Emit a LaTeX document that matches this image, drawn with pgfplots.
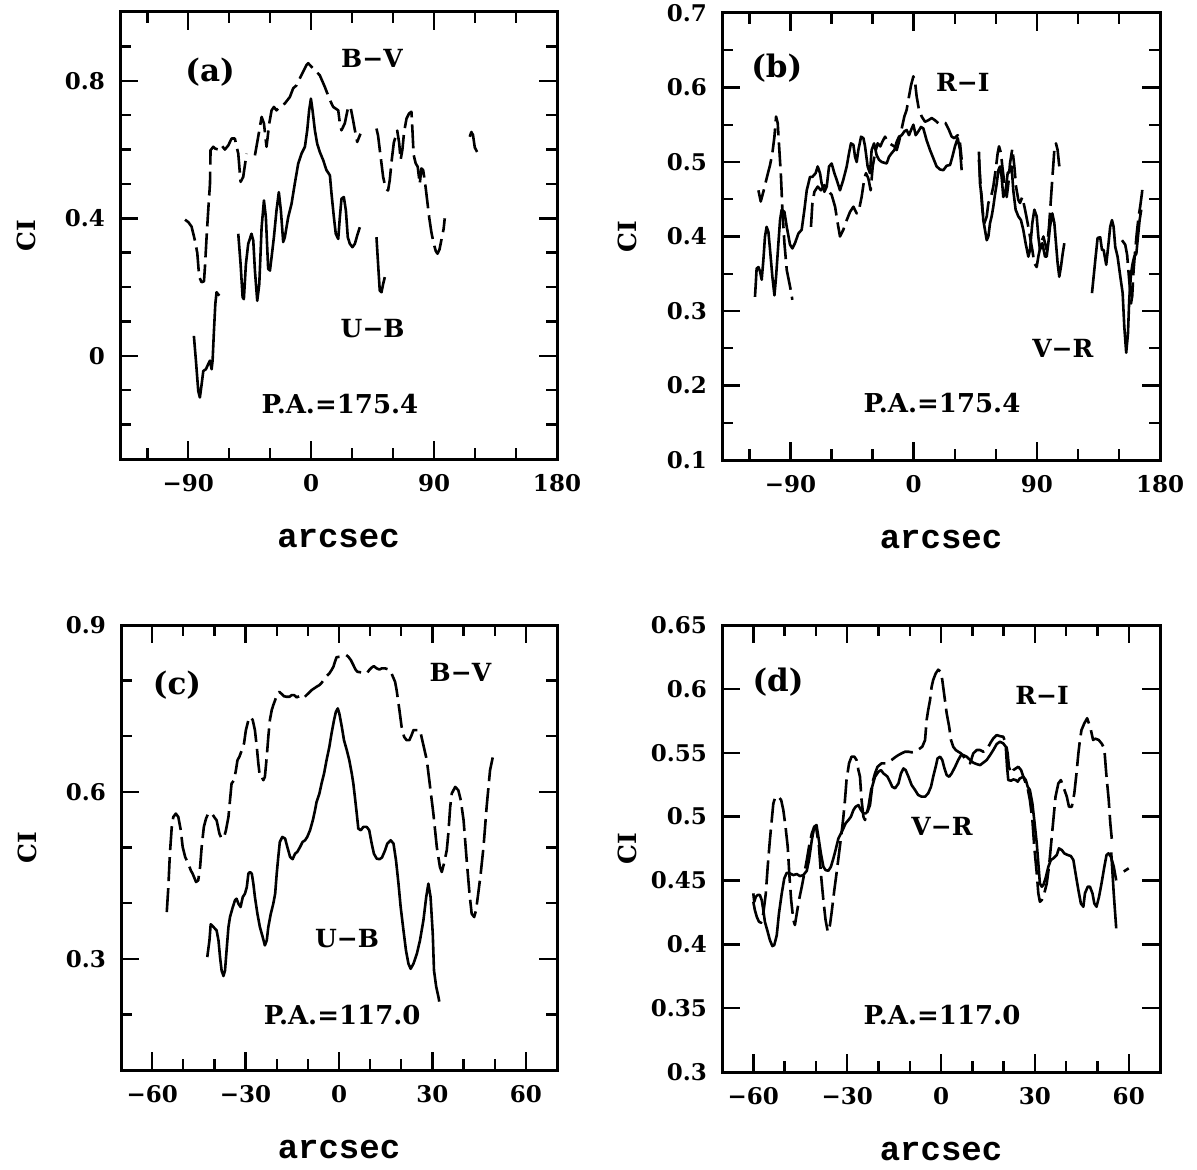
\documentclass[border=0pt]{standalone}
\usepackage{pgfplots}
\pgfplotsset{compat=1.18}
\usepackage{fontspec}
\setmainfont{DejaVu Serif}
\setmonofont{Liberation Mono}

\tikzset{
  lab/.style={font=\fontsize{12.5}{15}\selectfont\bfseries},
  pan/.style={font=\fontsize{15.5}{18}\selectfont\bfseries},
  pa/.style={font=\fontsize{13}{16}\selectfont\bfseries},
}
\pgfplotsset{
  panel/.style={
    scale only axis, clip=true,
    axis line style={line width=1.5pt},
    every tick/.style={black, line width=1.2pt},
    major tick length=9pt, minor tick length=5.5pt,
    tick align=inside,
    tick label style={font=\fontsize{11.5}{14}\selectfont\bfseries},
    xticklabel style={yshift=-4pt},
    yticklabel style={xshift=-4pt},
    xlabel={\fontsize{17}{19}\selectfont\ttfamily\bfseries arcsec},
    ylabel={\fontsize{12.5}{15}\selectfont\bfseries CI},
    xlabel style={at={(axis description cs:0.5,-0.178)}, anchor=center},
    ylabel style={at={(axis description cs:-0.215,0.5)}, anchor=center},
  },
  ci/.style={black, line width=1.3pt, line join=round, no marks},
  cid/.style={ci, dash pattern=on 12pt off 3.5pt},
  wide/.style={xmin=-140, xmax=180,
    xtick={-90,0,90,180}, xticklabels={−90,0,90,180},
    minor xtick={-120,-60,-30,30,60,120,150}},
  narrow/.style={xmin=-70, xmax=70,
    xtick={-60,-30,0,30,60}, xticklabels={−60,−30,0,30,60},
    minor xtick={-50,-40,-20,-10,10,20,40,50}},
}

\begin{document}
\begin{tikzpicture}
\useasboundingbox (0,0) rectangle (598.5pt,584.5pt);

% (a) P.A. = 175.4, B-V and U-B
\begin{axis}[panel, wide, at={(60pt,355pt)}, anchor=south west,
  width=218.5pt, height=223.5pt,
  ymin=-0.3, ymax=1.0,
  ytick={0,0.4,0.8}, yticklabels={0,0.4,0.8},
  minor ytick={-0.2,-0.1,0.1,0.2,0.3,0.5,0.6,0.7,0.9}]
\addplot[cid] coordinates {(-92.4,0.396) (-90,0.389) (-87.6,0.376) (-85.1,0.335) (-83.4,0.299) (-82,0.229) (-80.2,0.214) (-78.5,0.217) (-77.8,0.258) (-76.6,0.345) (-75.4,0.423) (-74.1,0.501) (-73.7,0.598) (-71.7,0.608) (-70.5,0.603) (-68,0.6) (-65.6,0.612) (-63.2,0.6) (-60.7,0.612) (-58.3,0.632) (-55.9,0.632) (-53.4,0.588) (-51.7,0.506) (-49.8,0.52) (-47.3,0.588)};
\addplot[cid] coordinates {(-41.2,0.583) (-38.8,0.637) (-36.3,0.695) (-34.6,0.676) (-32.7,0.608) (-30.7,0.676) (-29,0.714) (-27.3,0.724) (-25.4,0.714) (-22.9,0.724) (-19.3,0.734) (-15.6,0.753) (-13.2,0.778) (-10.7,0.787) (-8.3,0.807) (-5.9,0.826) (-3.4,0.846) (-2.2,0.851) (0.2,0.841) (1.5,0.836) (6.3,0.816) (10,0.782) (13.7,0.744) (16.1,0.724) (19.8,0.714) (21,0.676) (22.2,0.656) (24.6,0.676) (27.1,0.724) (28.8,0.724) (30.7,0.685) (32,0.656) (33.7,0.622) (35.1,0.636) (36.1,0.646)};
\addplot[cid] coordinates {(47.8,0.661) (49,0.64) (50.2,0.60) (52.7,0.52) (54.6,0.486) (56.3,0.481) (57.5,0.51) (59,0.57) (60.5,0.62) (62,0.64) (63,0.655) (64.4,0.62) (65.5,0.57) (66.8,0.60) (68,0.65) (69.8,0.69) (71.7,0.705) (73.4,0.71) (74.1,0.66) (75,0.585) (76.5,0.56) (78,0.55) (79.5,0.50) (80.7,0.545) (82,0.54) (83.5,0.50) (85,0.45) (86.5,0.40) (88,0.36) (89.5,0.33) (91.2,0.305) (92.5,0.297) (94,0.31) (95.5,0.34) (97,0.37) (97.8,0.40)};
\addplot[ci] coordinates {(116.1,0.637) (117.3,0.651) (118.5,0.642) (119.8,0.606) (121.5,0.593)};
\addplot[ci] coordinates {(-85.9,0.058) (-84.4,-0.014) (-82.7,-0.102) (-81.5,-0.121) (-80.2,-0.082) (-79,-0.044) (-77.1,-0.039) (-75.4,-0.024) (-74.1,-0.014) (-72.9,-0.039) (-72.2,-0.014) (-71.2,0.073) (-70.2,0.151) (-69.3,0.185) (-67.3,0.175)};
\addplot[ci] coordinates {(-53.4,0.355) (-51.7,0.267) (-50.2,0.17) (-49.3,0.165) (-47.8,0.267) (-46.1,0.326) (-43.7,0.355) (-42.4,0.335) (-41.2,0.248) (-39.5,0.16) (-38,0.209) (-36.3,0.374) (-34.6,0.452) (-33.2,0.404) (-31.5,0.253) (-30.2,0.248) (-29,0.287) (-27.3,0.345) (-25.4,0.423) (-23.7,0.476) (-22.2,0.423) (-20.5,0.331) (-19.3,0.345) (-16.8,0.404) (-14.4,0.442) (-12,0.501) (-9.5,0.559) (-7.1,0.588) (-4.6,0.608) (-2.9,0.656) (-1.5,0.714) (-0.2,0.748) (1,0.714) (2.7,0.656) (4.4,0.617) (6.3,0.593) (8.8,0.569) (11.2,0.54) (13.7,0.525) (14.9,0.471) (16.6,0.404) (18,0.355) (19.8,0.34) (21,0.404) (22.2,0.457) (23.9,0.462) (25.4,0.423) (26.8,0.345) (28.3,0.326) (30.2,0.316) (32,0.326) (33.7,0.35) (35.6,0.374)};
\addplot[ci] coordinates {(47.8,0.345) (49,0.267) (50.2,0.19) (51.5,0.185) (52.7,0.209) (53.9,0.229)};
\node[pan] at (axis cs:-74,0.825) {(a)};
\node[lab] at (axis cs:44.5,0.866) {B−V};
\node[lab] at (axis cs:45,0.08) {U−B};
\node[pa] at (axis cs:21,-0.14) {P.A.=175.4};
\end{axis}

% (b) P.A. = 175.4, R-I and V-R
\begin{axis}[panel, wide, at={(361pt,354.5pt)}, anchor=south west,
  width=219pt, height=223.5pt,
  ymin=0.1, ymax=0.7,
  ytick={0.1,0.2,0.3,0.4,0.5,0.6,0.7}, yticklabels={0.1,0.2,0.3,0.4,0.5,0.6,0.7},
  minor ytick={0.15,0.25,0.35,0.45,0.55,0.65}]
\addplot[ci] coordinates {(-115.9,0.319) (-114.7,0.357) (-113.4,0.359) (-112.2,0.353) (-111,0.342) (-109.8,0.368) (-108.6,0.4) (-107.4,0.413) (-106.1,0.406) (-104.9,0.382) (-103.2,0.346) (-101.7,0.321) (-100.5,0.346) (-98.8,0.391) (-97.6,0.422) (-96.4,0.436) (-94.4,0.433) (-92.7,0.413) (-90.3,0.389) (-88.6,0.384) (-86.7,0.391) (-84.2,0.404) (-81.8,0.409) (-79.8,0.436) (-78.1,0.462) (-75.7,0.48) (-74,0.48) (-71.6,0.485) (-70.1,0.494) (-68.4,0.485) (-67.2,0.471) (-65.2,0.46) (-63.5,0.467) (-61.8,0.494) (-59.9,0.498) (-57.9,0.485) (-56.2,0.476) (-53.8,0.462) (-51.4,0.476) (-48.9,0.494) (-47.2,0.512) (-45.8,0.525) (-44,0.523) (-42.8,0.507) (-41.6,0.5) (-40.4,0.516) (-38.4,0.534) (-36.7,0.532) (-35.5,0.521) (-33.6,0.494) (-31.9,0.485) (-30.7,0.516) (-28.9,0.525) (-27,0.509) (-25.3,0.503) (-23.3,0.5) (-19.7,0.498) (-18,0.507) (-16,0.512) (-14.1,0.516) (-12.4,0.527) (-10.7,0.534) (-8.7,0.536) (-6.8,0.541) (-5.1,0.543) (-3.4,0.536) (-1.4,0.545) (-0.2,0.55) (1.5,0.536) (3.4,0.541) (5.4,0.547) (7.1,0.545) (9.5,0.529) (12,0.516) (14.4,0.505) (16.8,0.494) (19.3,0.49) (21.7,0.489) (24.1,0.495) (26.6,0.496) (28.3,0.507) (30.2,0.521) (32.2,0.532) (33.9,0.516) (35.1,0.489)};
\addplot[cid] coordinates {(-113.4,0.462) (-111.7,0.447) (-109.8,0.46) (-107.4,0.478) (-104.9,0.496) (-103.2,0.512) (-101.7,0.534) (-100.5,0.561) (-99.3,0.552) (-98.1,0.516) (-96.9,0.48) (-95.9,0.436) (-94.4,0.391) (-92.7,0.355) (-90.3,0.333) (-88.6,0.315)};
\addplot[cid] coordinates {(-75,0.413) (-74,0.444) (-72.5,0.46) (-70.1,0.467) (-67.7,0.462) (-65.2,0.469) (-62.8,0.462) (-59.9,0.456) (-57.4,0.44) (-55.5,0.418) (-53.8,0.4) (-51.4,0.409) (-48.9,0.422) (-46.5,0.433) (-44,0.44) (-41.6,0.431) (-39.9,0.436) (-38,0.453) (-36,0.478) (-34.8,0.485) (-33.1,0.478) (-31.4,0.462) (-29.9,0.494) (-28.2,0.512) (-26.3,0.525) (-24.3,0.521) (-22.9,0.527) (-20.9,0.534) (-19,0.527) (-16,0.523) (-14.1,0.521) (-12.4,0.516) (-10.7,0.527) (-8.7,0.545) (-6.8,0.561) (-5.1,0.57) (-3.9,0.583) (-1.9,0.603) (-0.2,0.615) (1,0.608) (2.2,0.588) (3.9,0.57) (5.9,0.561) (8.3,0.554) (10.7,0.556) (13.2,0.559) (15.6,0.556) (18.1,0.552) (20.5,0.554) (23.4,0.552) (25.8,0.543) (27.8,0.534) (29.7,0.532) (32.2,0.536) (33.9,0.525) (35.1,0.503)};
\addplot[ci] coordinates {(47.7,0.514) (48.5,0.471) (49.7,0.453) (50.9,0.422) (52.1,0.409) (53.4,0.395) (54.6,0.4) (55.8,0.418) (57,0.427) (58.2,0.44) (59.4,0.456) (60.7,0.471) (61.9,0.489) (63.1,0.494) (64.3,0.48) (65.5,0.453) (67.2,0.462) (68.7,0.485) (70.4,0.489) (71.6,0.494) (72.8,0.462) (74.5,0.436) (76.5,0.427) (78.4,0.422) (80.1,0.409) (81.8,0.391) (83.8,0.373) (85,0.382) (86.7,0.418) (88.2,0.436) (89.9,0.427) (91.1,0.4) (92.3,0.382) (94,0.391) (96,0.373) (97.2,0.373) (98.4,0.391) (99.6,0.413) (101.3,0.431) (102.8,0.418) (104,0.391) (105.2,0.364) (106.4,0.346) (107.6,0.359) (108.9,0.377) (110.1,0.391)};
\addplot[cid] coordinates {(47.7,0.503) (49.2,0.462) (50.2,0.436) (51.7,0.418) (53.4,0.427) (54.6,0.445) (56.5,0.453) (58.2,0.467) (59.9,0.489) (61.4,0.512) (62.4,0.521) (63.8,0.512) (64.8,0.494) (66.3,0.471) (68,0.453) (69.2,0.471) (70.4,0.498) (72.1,0.518) (73.6,0.494) (74.8,0.467) (76.5,0.449) (77.7,0.445) (79.4,0.453) (81.4,0.436) (83.3,0.418) (85,0.4) (86.7,0.382) (88.2,0.364) (89.9,0.359) (91.1,0.373) (93.1,0.391) (94.8,0.4) (97.2,0.382) (98.9,0.413) (100.4,0.453) (101.6,0.485) (102.8,0.516) (104,0.525) (105.2,0.516) (106.2,0.498) (107.1,0.485)};
\addplot[ci] coordinates {(130.3,0.324) (132.7,0.368) (134.4,0.398) (136.3,0.399) (137.6,0.382) (138.8,0.382) (140.7,0.362) (142.4,0.391) (143.6,0.413) (144.9,0.422) (146.1,0.413) (147.3,0.386) (149,0.373) (151,0.346) (152.7,0.324) (153.9,0.279) (155.3,0.244) (156.6,0.27) (157.5,0.315) (158.8,0.35) (160,0.364) (161.2,0.373) (162.7,0.377) (163.9,0.4) (165.1,0.422) (166.3,0.436)};
\addplot[cid] coordinates {(152.2,0.395) (154.6,0.389) (156,0.375) (157.1,0.35) (158,0.33) (158.8,0.31) (159.7,0.32) (160.7,0.355) (161.9,0.382) (163.1,0.406) (164.4,0.427) (165.5,0.44) (166.8,0.458) (167.5,0.471)};
\node[pan] at (axis cs:-100,0.626) {(b)};
\node[lab] at (axis cs:36,0.607) {R−I};
\node[lab] at (axis cs:109,0.25) {V−R};
\node[pa] at (axis cs:20.7,0.176) {P.A.=175.4};
\end{axis}

% (c) P.A. = 117.0, B-V and U-B
\begin{axis}[panel, narrow, at={(60.5pt,49.5pt)}, anchor=south west,
  width=218pt, height=222.5pt,
  ymin=0.1, ymax=0.9,
  ytick={0.3,0.6,0.9}, yticklabels={0.3,0.6,0.9},
  minor ytick={0.2,0.4,0.5,0.7,0.8}]
\addplot[cid] coordinates {(-55.3,0.384) (-54.8,0.429) (-54.3,0.489) (-53.7,0.537) (-53.2,0.555) (-52.4,0.561) (-51.6,0.555) (-50.8,0.531) (-50.2,0.501) (-49.4,0.483) (-48.4,0.471) (-47.6,0.459) (-47,0.453) (-45.9,0.438) (-45.2,0.441) (-44.6,0.465) (-44.1,0.501) (-43.4,0.537) (-42.7,0.552) (-42,0.561) (-40.9,0.562) (-40.1,0.555) (-39.3,0.549) (-38.4,0.525) (-37.7,0.516) (-36.9,0.519) (-36.3,0.531) (-35.5,0.555) (-35,0.585) (-34.5,0.615) (-33.7,0.621) (-33.1,0.639) (-32.6,0.657) (-32,0.663) (-31.2,0.675) (-30.5,0.687) (-29.9,0.711) (-29.1,0.729) (-28.4,0.735) (-27.7,0.729) (-27,0.711) (-26.4,0.681) (-25.9,0.651) (-25.4,0.627) (-24.8,0.627) (-24.3,0.621) (-23.8,0.627) (-23.2,0.663) (-22.7,0.699) (-22.2,0.729) (-21.6,0.747) (-21.1,0.756) (-20.5,0.765) (-19.8,0.777) (-19.2,0.78) (-18.4,0.776) (-17.7,0.772) (-16.8,0.771) (-15.9,0.771) (-15.2,0.774) (-14.4,0.774) (-13.6,0.77) (-12.7,0.772) (-12,0.77) (-11.5,0.768) (-8.8,0.783) (-8,0.786) (-7.2,0.789) (-6.3,0.792) (-5.6,0.796) (-4.8,0.802) (-4,0.808) (-3.1,0.813) (-2.4,0.819) (-1.8,0.825) (-1.3,0.834) (-0.8,0.842) (0.1,0.843) (1.2,0.844) (2.3,0.846) (3,0.843) (3.8,0.837) (4.6,0.828) (5.3,0.82) (5.9,0.816) (8.9,0.813) (9.7,0.819) (10.6,0.824) (11.2,0.826) (12.1,0.822) (13,0.82) (13.7,0.822) (14.8,0.822) (15.9,0.82) (16.4,0.819) (18,0.798) (18.5,0.783) (19.4,0.747) (20.1,0.717) (20.9,0.699) (21.7,0.693) (22.6,0.693) (23.3,0.702) (23.9,0.711) (25,0.711) (26,0.711) (28.2,0.657) (30.3,0.561) (31.4,0.501) (32.4,0.465) (33,0.456) (33.7,0.471) (34.6,0.495) (35.1,0.525) (35.7,0.573) (36.2,0.597) (37.3,0.609) (38.3,0.603) (39.1,0.585) (40,0.549) (41,0.477) (41.9,0.417) (42.6,0.381) (43.4,0.375) (44,0.387) (44.7,0.417) (45.5,0.453) (46.4,0.501) (47.4,0.573) (48.5,0.639) (49.4,0.663) (50.1,0.672)};
\addplot[ci] coordinates {(-42.3,0.303) (-41.6,0.333) (-41.2,0.362) (-40.3,0.357) (-39.3,0.351) (-38.7,0.333) (-38.2,0.303) (-37.7,0.279) (-37.1,0.269) (-36.6,0.279) (-36.1,0.315) (-35.5,0.357) (-35,0.375) (-34.1,0.393) (-33.4,0.405) (-32.9,0.408) (-32.3,0.399) (-31.6,0.393) (-30.9,0.411) (-30.2,0.417) (-29.6,0.429) (-29.1,0.453) (-28.6,0.456) (-28,0.453) (-27.5,0.435) (-27,0.411) (-26.2,0.381) (-25.4,0.357) (-24.5,0.339) (-23.8,0.324) (-23.2,0.333) (-22.7,0.357) (-21.9,0.381) (-21.1,0.399) (-20.5,0.417) (-20,0.453) (-19.5,0.483) (-19,0.51) (-18.2,0.519) (-17.3,0.516) (-16.6,0.501) (-15.7,0.483) (-14.9,0.479) (-14.1,0.489) (-13.4,0.492) (-12.5,0.501) (-11.7,0.51) (-10.9,0.513) (-10.2,0.519) (-9.3,0.531) (-8.4,0.549) (-7.7,0.567) (-7.2,0.582) (-6.3,0.597) (-5.6,0.615) (-4.8,0.633) (-4,0.657) (-3.1,0.681) (-2.4,0.705) (-1.6,0.729) (-1,0.744) (-0.4,0.75) (0.1,0.741) (0.9,0.717) (1.6,0.693) (2.5,0.675) (3.3,0.657) (4.1,0.633) (4.6,0.615) (5.1,0.591) (5.7,0.561) (6.2,0.534) (7,0.531) (7.8,0.537) (8.9,0.537) (9.7,0.531) (10.5,0.507) (11.2,0.489) (12.1,0.48) (13,0.479) (13.8,0.482) (14.8,0.495) (15.5,0.507) (16.6,0.513) (17.5,0.507) (18.3,0.477) (19.1,0.435) (19.8,0.393) (20.7,0.351) (21.5,0.315) (22.3,0.291) (23,0.282) (23.9,0.291) (25,0.309) (26,0.333) (27.1,0.369) (28,0.411) (28.7,0.435) (29.4,0.411) (30.1,0.345) (30.5,0.279) (31.2,0.25) (31.9,0.232) (32.2,0.223)};
\node[pan] at (axis cs:-52,0.792) {(c)};
\node[lab] at (axis cs:39,0.814) {B−V};
\node[lab] at (axis cs:2.6,0.337) {U−B};
\node[pa] at (axis cs:1,0.199) {P.A.=117.0};
\end{axis}

% (d) P.A. = 117.0, R-I and V-R
\begin{axis}[panel, narrow, at={(361pt,48.5pt)}, anchor=south west,
  width=219pt, height=223.5pt,
  ymin=0.3, ymax=0.65,
  ytick={0.3,0.35,0.4,0.45,0.5,0.55,0.6,0.65},
  yticklabels={0.3,0.35,0.4,0.45,0.5,0.55,0.6,0.65}]
\addplot[ci] coordinates {(-60,0.4399) (-59.7,0.4333) (-59.2,0.4372) (-58.6,0.4386) (-57.9,0.4386) (-57.3,0.4346) (-56.8,0.4268) (-56.3,0.4177) (-55.4,0.4098) (-54.7,0.4033) (-53.9,0.3986) (-53.3,0.3994) (-52.5,0.4072) (-51.8,0.4242) (-50.9,0.4399) (-50.1,0.4516) (-49.3,0.456) (-48.3,0.4555) (-47.2,0.4542) (-46.1,0.455) (-45.1,0.4534) (-44,0.4542) (-42.9,0.4576) (-42.2,0.466) (-41.3,0.4816) (-40.5,0.4921) (-39.8,0.4934) (-39.2,0.4842) (-38.4,0.4712) (-37.6,0.4607) (-36.9,0.4581) (-36,0.4576) (-35.2,0.4607) (-34.4,0.4673) (-33.7,0.4738) (-32.8,0.4829) (-32,0.4868) (-31.2,0.4908) (-30.5,0.4947) (-29.6,0.4973) (-28.8,0.4999) (-28,0.5051) (-27.3,0.5077) (-26.4,0.509) (-25.6,0.5051) (-24.8,0.5025) (-24.1,0.5025) (-23.5,0.5038) (-22.7,0.509) (-22,0.5234) (-21.1,0.5312) (-20,0.5351) (-19.2,0.5364) (-18.4,0.5338) (-17.7,0.5325) (-17.1,0.5312) (-16.3,0.5273) (-15.6,0.5234) (-14.7,0.5221) (-13.6,0.526) (-12.8,0.5338) (-12,0.5377) (-11.3,0.5364) (-10.4,0.5312) (-9.4,0.5247) (-8.3,0.5208) (-7.3,0.5169) (-6.2,0.5156) (-5.1,0.5156) (-4.1,0.5182) (-3.2,0.5234) (-2.5,0.5312) (-1.7,0.539) (-1.1,0.5456) (-0.3,0.5469) (0.4,0.5443) (1.1,0.5377) (1.8,0.5325) (2.6,0.5312) (3.4,0.5338) (4.5,0.539) (5.5,0.5443) (6.4,0.5482) (7.1,0.5482) (8.2,0.5469) (9.3,0.5443) (10.3,0.5422) (11.4,0.5411) (12.5,0.5403) (13.5,0.5422) (14.6,0.5443) (15.7,0.5482) (16.7,0.5521) (17.8,0.5568) (18.8,0.5586) (19.9,0.5573) (20.7,0.5547) (21.1,0.539) (21.5,0.5286) (22.4,0.5281) (23.1,0.5291) (23.9,0.5286) (24.5,0.5273) (25.2,0.5299) (26.3,0.5312) (27.1,0.5286) (27.7,0.5234) (28.4,0.5208) (29.2,0.5103) (29.8,0.4973) (30.6,0.479) (31.1,0.4634) (31.6,0.4477) (32.2,0.4451) (32.7,0.4464) (33.4,0.4516) (34.3,0.4607) (35.1,0.466) (35.9,0.4673) (37,0.4699) (37.7,0.4751) (38.6,0.4738) (39.4,0.4712) (40.5,0.4699) (41.5,0.4691) (42.3,0.466) (43,0.4555) (43.9,0.4425) (44.7,0.432) (45.5,0.4294) (46,0.4399) (46.9,0.4451) (47.6,0.4451) (48.4,0.4399) (49,0.432) (49.7,0.4294) (50.5,0.4372) (51.3,0.4477) (52.2,0.4607) (52.9,0.4699) (53.5,0.4712) (54.3,0.4685) (55.2,0.461) (56,0.45)};
\addplot[ci] coordinates {(54.4,0.472) (55.2,0.44) (56,0.4125)};
\addplot[ci] coordinates {(58.4,0.457) (60,0.4595)};
\addplot[cid] coordinates {(-60,0.4333) (-59.5,0.4268) (-58.9,0.4216) (-58.2,0.4177) (-57.5,0.4169) (-56.8,0.4242) (-56,0.4399) (-55.4,0.4607) (-54.7,0.4816) (-54.1,0.4973) (-53.6,0.5103) (-52.9,0.5156) (-52,0.5156) (-51.1,0.513) (-50.4,0.5051) (-49.7,0.4921) (-49,0.4764) (-48.5,0.4555) (-47.9,0.4346) (-47.2,0.419) (-46.7,0.4151) (-46.1,0.4242) (-45.4,0.4346) (-44.5,0.4451) (-43.7,0.4555) (-42.9,0.466) (-42.2,0.4764) (-41.3,0.4868) (-40.5,0.4921) (-39.8,0.4895) (-39,0.4764) (-38.4,0.4555) (-37.6,0.4346) (-36.9,0.419) (-36.2,0.4098) (-35.5,0.4151) (-35,0.4242) (-34.1,0.4425) (-33.4,0.4555) (-32.6,0.4712) (-31.8,0.4868) (-31.2,0.4999) (-30.7,0.513) (-30.2,0.5286) (-29.4,0.5417) (-28.6,0.5469) (-27.7,0.5469) (-27,0.5443) (-26.4,0.5364) (-25.9,0.5312) (-25.4,0.513) (-24.8,0.4999) (-24.3,0.4973) (-23.2,0.5077) (-22,0.526) (-21.1,0.5338) (-20.3,0.539) (-19,0.5417) (-17.4,0.5417) (-15.8,0.5443) (-14.7,0.5464) (-13.6,0.5482) (-12.6,0.5495) (-11.5,0.5508) (-10.4,0.5508) (-9.4,0.5503) (-8.3,0.5508) (-7.5,0.5521) (-6.7,0.5534) (-6,0.5547) (-5.1,0.5599) (-4.6,0.5756) (-4.1,0.5834) (-3.5,0.5913) (-3,0.6017) (-2.5,0.607) (-1.7,0.6121) (-0.9,0.615) (-0.1,0.6135) (0.4,0.607) (1.1,0.594) (1.8,0.581) (2.6,0.5704) (3.2,0.5599) (3.9,0.5547) (4.7,0.5521) (5.5,0.5508) (6.4,0.5495) (7.2,0.5469) (8.2,0.5443) (9.3,0.5417) (10.3,0.5495) (11.4,0.5521) (12.5,0.5521) (13.5,0.5508) (14.6,0.5521) (15.7,0.5573) (16.7,0.5612) (17.8,0.5638) (18.8,0.563) (19.9,0.5625) (20.7,0.5573) (21.3,0.5495) (21.7,0.539) (22.4,0.5338) (23.1,0.5364) (23.9,0.5377) (24.7,0.539) (25.6,0.5364) (26.3,0.5312) (27.1,0.526) (27.7,0.5221) (28.4,0.513) (29.2,0.4973) (29.8,0.4764) (30.6,0.4555) (31.1,0.4399) (31.6,0.4333) (32.2,0.4346) (33,0.4399) (33.8,0.4477) (34.5,0.4607) (35.1,0.4764) (35.9,0.4973) (36.6,0.5156) (37.5,0.526) (38.3,0.5286) (39.1,0.5234) (40.2,0.5156) (40.9,0.5077) (41.8,0.5077) (42.6,0.5182) (43.3,0.5338) (43.9,0.5495) (44.4,0.5599) (44.9,0.5678) (45.8,0.573) (46.7,0.577) (47.7,0.570) (48.6,0.56) (49.3,0.561) (50.4,0.56) (51.4,0.557) (52.2,0.553) (52.8,0.534) (53.6,0.513) (54.1,0.495) (54.6,0.482)};
\node[pan] at (axis cs:-52.1,0.605) {(d)};
\node[lab] at (axis cs:32.3,0.595) {R−I};
\node[lab] at (axis cs:0.3,0.492) {V−R};
\node[pa] at (axis cs:0.3,0.345) {P.A.=117.0};
\end{axis}
\end{tikzpicture}
\end{document}
